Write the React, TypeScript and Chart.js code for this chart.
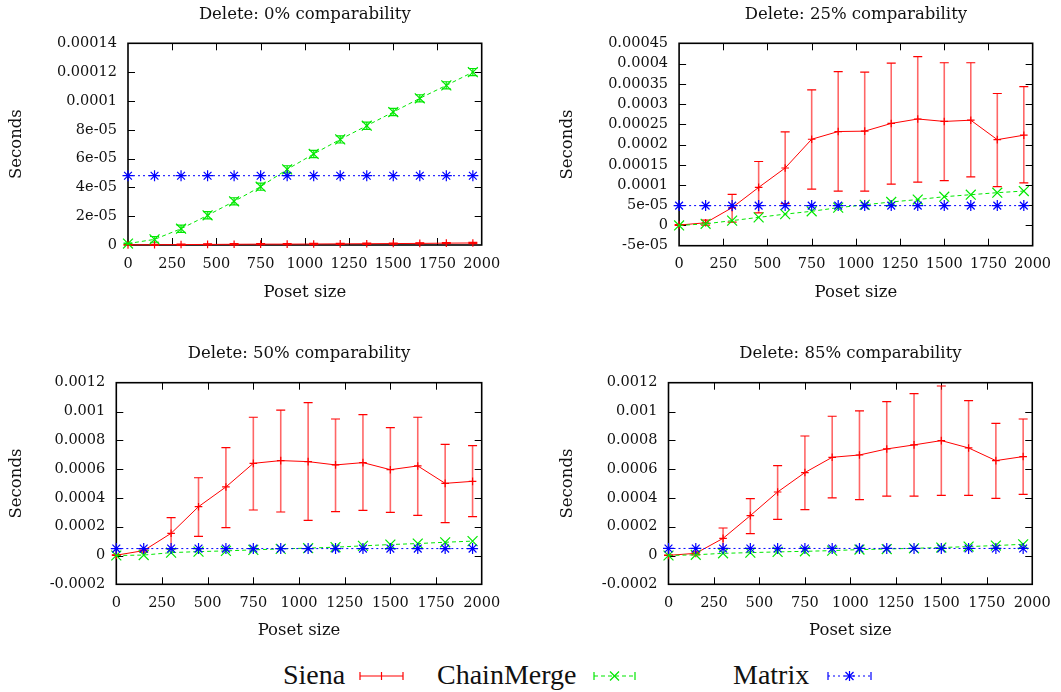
import React, { useEffect, useRef } from 'react';
import { Chart, registerables } from 'chart.js';

Chart.register(...registerables);

// ---------------- data ----------------
const posetSizes = [0, 150, 300, 450, 600, 750, 900, 1050, 1200, 1350, 1500, 1650, 1800, 1950];

const xTicks = [0, 250, 500, 750, 1000, 1250, 1500, 1750, 2000];
const xTickLabels = ['0', '250', '500', '750', '1000', '1250', '1500', '1750', '2000'];

const yTicks0 = [0, 2e-5, 4e-5, 6e-5, 8e-5, 1e-4, 1.2e-4, 1.4e-4];
const yTickLabels0 = ['0', '2e-05', '4e-05', '6e-05', '8e-05', '0.0001', '0.00012', '0.00014'];
const yTicks25 = [-5e-5, 0, 5e-5, 1e-4, 1.5e-4, 2e-4, 2.5e-4, 3e-4, 3.5e-4, 4e-4, 4.5e-4];
const yTickLabels25 = ['-5e-05', '0', '5e-05', '0.0001', '0.00015', '0.0002', '0.00025', '0.0003', '0.00035', '0.0004', '0.00045'];
const yTicksBig = [-2e-4, 0, 2e-4, 4e-4, 6e-4, 8e-4, 1e-3, 1.2e-3];
const yTickLabelsBig = ['-0.0002', '0', '0.0002', '0.0004', '0.0006', '0.0008', '0.001', '0.0012'];

const panelTitles = [
  'Delete: 0% comparability',
  'Delete: 25% comparability',
  'Delete: 50% comparability',
  'Delete: 85% comparability',
];
const seriesNames = ['Siena', 'ChainMerge', 'Matrix'];

// 0% comparability
const siena0 = [0.1e-6, 0.2e-6, 0.3e-6, 0.4e-6, 0.5e-6, 0.6e-6, 0.6e-6, 0.7e-6, 0.8e-6, 0.9e-6, 1.0e-6, 1.1e-6, 1.3e-6, 1.4e-6];
const siena0Err = [0.2e-6, 0.3e-6, 0.4e-6, 0.4e-6, 0.4e-6, 0.4e-6, 0.4e-6, 0.4e-6, 0.4e-6, 0.4e-6, 0.4e-6, 0.4e-6, 0.4e-6, 0.4e-6];
const chain0 = [0.1e-5, 0.39e-5, 1.13e-5, 2.06e-5, 3.03e-5, 4.05e-5, 5.25e-5, 6.32e-5, 7.33e-5, 8.28e-5, 9.23e-5, 10.18e-5, 11.08e-5, 12.0e-5];
const chain0Err = [0.3e-6, 2.0e-6, 2.5e-6, 2.5e-6, 2.5e-6, 2.5e-6, 2.5e-6, 2.5e-6, 2.5e-6, 2.5e-6, 2.5e-6, 2.5e-6, 2.5e-6, 2.5e-6];
const matrix0 = [4.81e-5, 4.81e-5, 4.81e-5, 4.81e-5, 4.81e-5, 4.81e-5, 4.81e-5, 4.81e-5, 4.81e-5, 4.81e-5, 4.81e-5, 4.81e-5, 4.81e-5, 4.81e-5];

// 25% comparability
const siena25 = [0.1e-5, 0.66e-5, 4.4e-5, 9.4e-5, 14.2e-5, 21.3e-5, 23.2e-5, 23.3e-5, 25.2e-5, 26.3e-5, 25.7e-5, 26.0e-5, 21.2e-5, 22.3e-5];
const siena25High = [0.2e-5, 1.3e-5, 7.7e-5, 15.8e-5, 23.1e-5, 33.5e-5, 38.0e-5, 37.9e-5, 40.1e-5, 41.7e-5, 40.2e-5, 40.2e-5, 32.6e-5, 34.3e-5];
const siena25Low = [0, 0.1e-5, 0.8e-5, 3.1e-5, 5.4e-5, 9.0e-5, 8.5e-5, 8.5e-5, 10.2e-5, 10.7e-5, 11.1e-5, 12.0e-5, 9.6e-5, 10.5e-5];
const chain25 = [0, 0.4e-5, 1.2e-5, 2.0e-5, 2.8e-5, 3.5e-5, 4.4e-5, 5.1e-5, 5.8e-5, 6.4e-5, 7.1e-5, 7.6e-5, 8.1e-5, 8.5e-5];
const matrix25 = [4.9e-5, 4.9e-5, 4.9e-5, 4.9e-5, 4.9e-5, 4.9e-5, 4.9e-5, 4.9e-5, 4.9e-5, 4.9e-5, 4.9e-5, 4.9e-5, 4.9e-5, 4.9e-5];

// 50% comparability
const siena50 = [0.2e-5, 3.4e-5, 1.54e-4, 3.39e-4, 4.76e-4, 6.4e-4, 6.59e-4, 6.52e-4, 6.29e-4, 6.45e-4, 5.96e-4, 6.22e-4, 5.01e-4, 5.15e-4];
const siena50High = [0.5e-5, 4.5e-5, 2.63e-4, 5.4e-4, 7.49e-4, 9.6e-4, 10.1e-4, 10.62e-4, 9.48e-4, 9.78e-4, 8.88e-4, 9.6e-4, 7.72e-4, 7.63e-4];
const siena50Low = [0, 2.3e-5, 0.45e-4, 1.33e-4, 1.94e-4, 3.16e-4, 3.02e-4, 2.44e-4, 3.05e-4, 3.14e-4, 3.0e-4, 2.79e-4, 2.28e-4, 2.7e-4];
const chain50 = [0, 0.3e-5, 2.0e-5, 2.7e-5, 3.2e-5, 3.9e-5, 4.6e-5, 5.1e-5, 5.8e-5, 6.7e-5, 7.6e-5, 8.3e-5, 9.2e-5, 10.0e-5];
const matrix50 = [4.8e-5, 4.8e-5, 4.8e-5, 4.8e-5, 4.8e-5, 4.8e-5, 4.8e-5, 4.8e-5, 4.8e-5, 4.8e-5, 4.8e-5, 4.8e-5, 4.8e-5, 4.8e-5];

// 85% comparability
const siena85 = [0.1e-5, 1.5e-5, 1.19e-4, 2.77e-4, 4.41e-4, 5.76e-4, 6.82e-4, 6.98e-4, 7.4e-4, 7.68e-4, 7.98e-4, 7.47e-4, 6.59e-4, 6.87e-4];
const siena85High = [0.3e-5, 2.5e-5, 1.91e-4, 3.95e-4, 6.24e-4, 8.3e-4, 9.67e-4, 10.04e-4, 10.69e-4, 11.24e-4, 11.77e-4, 10.76e-4, 9.18e-4, 9.48e-4];
const siena85Low = [0, 0.5e-5, 0.47e-4, 1.52e-4, 2.51e-4, 3.19e-4, 4.0e-4, 3.88e-4, 4.13e-4, 4.13e-4, 4.18e-4, 4.18e-4, 3.97e-4, 4.25e-4];
const chain85 = [0, 0.5e-5, 1.5e-5, 2.0e-5, 2.5e-5, 2.9e-5, 3.4e-5, 4.1e-5, 4.5e-5, 5.0e-5, 5.5e-5, 6.2e-5, 6.9e-5, 7.8e-5];
const matrix85 = [4.9e-5, 4.9e-5, 4.9e-5, 4.9e-5, 4.9e-5, 4.9e-5, 4.9e-5, 4.9e-5, 4.9e-5, 4.9e-5, 4.9e-5, 4.9e-5, 4.9e-5, 4.9e-5];

// ---------------- styling / layout ----------------
const FONT_FAMILY = "'DejaVu Serif', serif";
const TICK_SIZE = 14.5;
const TITLE_SIZE = 16.5;
const LH = 1.2;
const TEXT_COLOR = '#111';
const RED = '#ff0000';
const GREEN = '#00e800';
const BLUE = '#0000ff';

type Box = { x: number; y: number; w: number; h: number };
type Area = { l: number; r: number; t: number; b: number };

type PanelSpec = {
  title: string;
  yTicks: number[];
  yLabels: string[];
  siena: number[];
  sienaLow: number[];
  sienaHigh: number[];
  chain: number[];
  chainLow: number[] | null;
  chainHigh: number[] | null;
  matrix: number[];
  box: Box;
  area: Area;
  titleY: number;
  xTickY: number;
  xTitleY: number;
  yTitleX: number;
};

const minus = (a: number[], e: number[]) => a.map((v, i) => v - e[i]);
const plus = (a: number[], e: number[]) => a.map((v, i) => v + e[i]);

const panels: PanelSpec[] = [
  {
    title: panelTitles[0], yTicks: yTicks0, yLabels: yTickLabels0,
    siena: siena0, sienaLow: minus(siena0, siena0Err), sienaHigh: plus(siena0, siena0Err),
    chain: chain0, chainLow: minus(chain0, chain0Err), chainHigh: plus(chain0, chain0Err),
    matrix: matrix0,
    box: { x: 0, y: 0, w: 530, h: 340 },
    area: { l: 128, r: 481.7, t: 43.3, b: 245 },
    titleY: 15, xTickY: 264.3, xTitleY: 292.3, yTitleX: 17,
  },
  {
    title: panelTitles[1], yTicks: yTicks25, yLabels: yTickLabels25,
    siena: siena25, sienaLow: siena25Low, sienaHigh: siena25High,
    chain: chain25, chainLow: null, chainHigh: null,
    matrix: matrix25,
    box: { x: 530, y: 0, w: 531, h: 340 },
    area: { l: 149.1, r: 504.1, t: 43.3, b: 245.7 },
    titleY: 15, xTickY: 264.3, xTitleY: 292.3, yTitleX: 38.1,
  },
  {
    title: panelTitles[2], yTicks: yTicksBig, yLabels: yTickLabelsBig,
    siena: siena50, sienaLow: siena50Low, sienaHigh: siena50High,
    chain: chain50, chainLow: null, chainHigh: null,
    matrix: matrix50,
    box: { x: 0, y: 340, w: 530, h: 310 },
    area: { l: 116.3, r: 481.7, t: 42.7, b: 244.3 },
    titleY: 14, xTickY: 263.3, xTitleY: 291, yTitleX: 17,
  },
  {
    title: panelTitles[3], yTicks: yTicksBig, yLabels: yTickLabelsBig,
    siena: siena85, sienaLow: siena85Low, sienaHigh: siena85High,
    chain: chain85, chainLow: null, chainHigh: null,
    matrix: matrix85,
    box: { x: 530, y: 340, w: 531, h: 310 },
    area: { l: 138.5, r: 504.1, t: 42.7, b: 244.3 },
    titleY: 14, xTickY: 263.3, xTitleY: 291, yTitleX: 38.1,
  },
];

// Frame with inward ticks (gnuplot style) + error bars
const framePlugin = {
  id: 'gnuFrame',
  beforeDatasetsDraw(chart: any) {
    const { ctx, chartArea: a, scales } = chart;
    const xs = scales.x;
    const ys = scales.y;
    ctx.save();
    ctx.strokeStyle = '#000';
    ctx.lineWidth = 1.6;
    ctx.strokeRect(a.left, a.top, a.right - a.left, a.bottom - a.top);
    const tl = 7;
    ctx.lineWidth = 1;
    ctx.beginPath();
    for (const t of xs.ticks) {
      const px = Math.round(xs.getPixelForValue(t.value)) + 0.5;
      if (px <= a.left + 2 || px >= a.right - 2) continue;
      ctx.moveTo(px, a.bottom);
      ctx.lineTo(px, a.bottom - tl);
      ctx.moveTo(px, a.top);
      ctx.lineTo(px, a.top + tl);
    }
    for (const t of ys.ticks) {
      const py = Math.round(ys.getPixelForValue(t.value)) + 0.5;
      if (py <= a.top + 2 || py >= a.bottom - 2) continue;
      ctx.moveTo(a.left, py);
      ctx.lineTo(a.left + tl, py);
      ctx.moveTo(a.right, py);
      ctx.lineTo(a.right - tl, py);
    }
    ctx.stroke();

    chart.data.datasets.forEach((ds: any, i: number) => {
      if (!ds.errLow || !ds.errHigh) return;
      const meta = chart.getDatasetMeta(i);
      meta.data.forEach((pt: any, j: number) => {
        const x = pt.x;
        const yl = ys.getPixelForValue(ds.errLow[j]);
        const yh = ys.getPixelForValue(ds.errHigh[j]);
        ctx.strokeStyle = ds.errColor;
        ctx.lineWidth = 1.6;
        ctx.beginPath();
        ctx.moveTo(x, yl);
        ctx.lineTo(x, yh);
        ctx.stroke();
        ctx.strokeStyle = ds.borderColor;
        ctx.lineWidth = 1.2;
        ctx.beginPath();
        ctx.moveTo(x - 4.5, yl);
        ctx.lineTo(x + 4.5, yl);
        ctx.moveTo(x - 4.5, yh);
        ctx.lineTo(x + 4.5, yh);
        ctx.stroke();
      });
    });
    ctx.restore();
  },
};

function buildConfig(spec: PanelSpec): any {
  const { box, area } = spec;
  const lhTitle = TITLE_SIZE * LH;
  const lhTick = TICK_SIZE * LH;
  const hx = spec.xTitleY + lhTitle / 2 - area.b;
  const tickFont = { family: FONT_FAMILY, size: TICK_SIZE, lineHeight: LH };
  const titleFont = { family: FONT_FAMILY, size: TITLE_SIZE, lineHeight: LH, weight: 'normal' as const };
  const toXY = (arr: number[]) => posetSizes.map((x, i) => ({ x, y: arr[i] }));

  return {
    type: 'line',
    data: {
      datasets: [
        {
          label: seriesNames[0],
          data: toXY(spec.siena),
          borderColor: RED,
          borderWidth: 1,
          pointStyle: 'cross',
          pointRadius: 3.8,
          pointBorderColor: RED,
          pointBorderWidth: 1.2,
          tension: 0,
          fill: false,
          clip: false,
          order: 3,
          errLow: spec.sienaLow,
          errHigh: spec.sienaHigh,
          errColor: 'rgba(255,0,0,0.6)',
        },
        {
          label: seriesNames[1],
          data: toXY(spec.chain),
          borderColor: GREEN,
          borderWidth: 1,
          borderDash: [4, 3],
          pointStyle: 'crossRot',
          pointRadius: 7,
          pointBorderColor: GREEN,
          pointBorderWidth: 1.2,
          tension: 0,
          fill: false,
          clip: false,
          order: 2,
          errLow: spec.chainLow,
          errHigh: spec.chainHigh,
          errColor: 'rgba(0,232,0,0.8)',
        },
        {
          label: seriesNames[2],
          data: toXY(spec.matrix),
          borderColor: BLUE,
          borderWidth: 1,
          borderDash: [2, 3],
          pointStyle: 'star',
          pointRadius: 5.5,
          pointBorderColor: BLUE,
          pointBorderWidth: 1.2,
          tension: 0,
          fill: false,
          clip: false,
          order: 1,
        },
      ],
    },
    options: {
      animation: false,
      responsive: false,
      maintainAspectRatio: false,
      events: [],
      layout: {
        padding: { left: 0, top: 0, right: box.w - area.r, bottom: box.h - area.b - hx },
      },
      plugins: {
        legend: { display: false },
        tooltip: { enabled: false },
        title: {
          display: true,
          text: spec.title,
          fullSize: false,
          color: TEXT_COLOR,
          font: titleFont,
          padding: { top: spec.titleY - lhTitle / 2, bottom: area.t - spec.titleY - lhTitle / 2 },
        },
      },
      scales: {
        x: {
          type: 'linear',
          min: 0,
          max: 2000,
          grid: { display: false, drawTicks: false },
          border: { display: false },
          afterBuildTicks: (s: any) => {
            s.ticks = xTicks.map((v) => ({ value: v }));
          },
          afterFit: (s: any) => {
            s.height = hx;
          },
          ticks: {
            autoSkip: false,
            maxRotation: 0,
            color: TEXT_COLOR,
            font: tickFont,
            padding: spec.xTickY - area.b - lhTick / 2,
            callback: (_v: any, i: number) => xTickLabels[i],
          },
          title: {
            display: true,
            text: 'Poset size',
            color: TEXT_COLOR,
            font: titleFont,
            padding: { top: 0, bottom: 0 },
          },
        },
        y: {
          type: 'linear',
          min: spec.yTicks[0],
          max: spec.yTicks[spec.yTicks.length - 1],
          grid: { display: false, drawTicks: false },
          border: { display: false },
          afterBuildTicks: (s: any) => {
            s.ticks = spec.yTicks.map((v) => ({ value: v }));
          },
          afterFit: (s: any) => {
            s.width = area.l;
          },
          ticks: {
            autoSkip: false,
            color: TEXT_COLOR,
            font: tickFont,
            padding: 11,
            callback: (_v: any, i: number) => spec.yLabels[i],
          },
          title: {
            display: true,
            text: 'Seconds',
            color: TEXT_COLOR,
            font: titleFont,
            padding: { top: spec.yTitleX - lhTitle / 2, bottom: 0 },
          },
        },
      },
    },
    plugins: [framePlugin],
  };
}

function Panel({ spec }: { spec: PanelSpec }) {
  const ref = useRef<HTMLCanvasElement>(null);
  useEffect(() => {
    const canvas = ref.current;
    if (!canvas) return;
    const chart = new Chart(canvas, buildConfig(spec));
    return () => chart.destroy();
  }, [spec]);
  return (
    <canvas
      ref={ref}
      width={spec.box.w}
      height={spec.box.h}
      style={{ position: 'absolute', left: spec.box.x, top: spec.box.y, width: spec.box.w, height: spec.box.h, display: 'block' }}
    />
  );
}

function Legend() {
  const yLine = 26;
  const fontFamily = "'Liberation Serif', 'Times New Roman', serif";
  const caps = (x1: number, x2: number, color: string) => (
    <>
      <line x1={x1} y1={yLine - 4} x2={x1} y2={yLine + 4} stroke={color} strokeWidth={1.2} />
      <line x1={x2} y1={yLine - 4} x2={x2} y2={yLine + 4} stroke={color} strokeWidth={1.2} />
    </>
  );
  return (
    <svg width={1061} height={42} style={{ position: 'absolute', left: 0, top: 650 }}>
      <text x={283} y={34} fontFamily={fontFamily} fontSize={28} fill="#111">{seriesNames[0]}</text>
      <line x1={360} y1={yLine} x2={403} y2={yLine} stroke={RED} strokeWidth={1.2} />
      {caps(360, 403, RED)}
      <line x1={381.5} y1={yLine - 4} x2={381.5} y2={yLine + 4} stroke={RED} strokeWidth={1.2} />

      <text x={437} y={34} fontFamily={fontFamily} fontSize={28} fill="#111">{seriesNames[1]}</text>
      <line x1={594} y1={yLine} x2={635} y2={yLine} stroke={GREEN} strokeWidth={1.2} strokeDasharray="4 3" />
      {caps(594, 635, GREEN)}
      <line x1={610} y1={yLine - 4.5} x2={619} y2={yLine + 4.5} stroke={GREEN} strokeWidth={1.2} />
      <line x1={610} y1={yLine + 4.5} x2={619} y2={yLine - 4.5} stroke={GREEN} strokeWidth={1.2} />

      <text x={733} y={34} fontFamily={fontFamily} fontSize={28} fill="#111">{seriesNames[2]}</text>
      <line x1={828} y1={yLine} x2={871} y2={yLine} stroke={BLUE} strokeWidth={1.2} strokeDasharray="2 3" />
      {caps(828, 871, BLUE)}
      <line x1={849.5} y1={yLine - 5} x2={849.5} y2={yLine + 5} stroke={BLUE} strokeWidth={1.2} />
      <line x1={845.5} y1={yLine - 4} x2={853.5} y2={yLine + 4} stroke={BLUE} strokeWidth={1.2} />
      <line x1={845.5} y1={yLine + 4} x2={853.5} y2={yLine - 4} stroke={BLUE} strokeWidth={1.2} />
      <line x1={844.5} y1={yLine} x2={854.5} y2={yLine} stroke={BLUE} strokeWidth={1.2} />
    </svg>
  );
}

export default function App() {
  return (
    <div style={{ position: 'absolute', left: 0, top: 0, width: 1061, height: 692, background: '#fff', overflow: 'hidden' }}>
      {panels.map((p, i) => (
        <Panel key={i} spec={p} />
      ))}
      <Legend />
    </div>
  );
}
